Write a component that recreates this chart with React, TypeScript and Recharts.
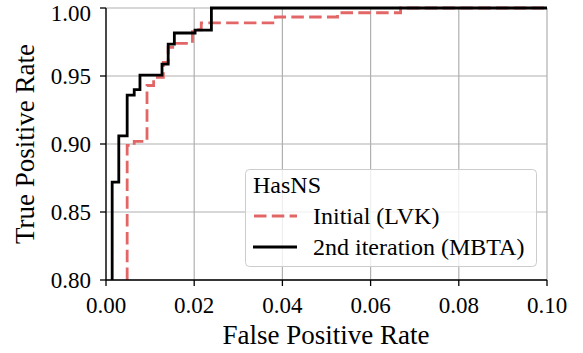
import React from 'react';
import { LineChart, Line, XAxis, YAxis, CartesianGrid, Legend } from 'recharts';

// ROC staircase vertices: (false positive rate, true positive rate) after each rise
const initialFpr = [0.0048, 0.0048, 0.0064, 0.0093, 0.0108, 0.013, 0.0141, 0.016, 0.0196, 0.0216, 0.0384, 0.0525, 0.0668, 0.1];
const initialTpr = [0.8, 0.899, 0.902, 0.943, 0.949, 0.96, 0.971, 0.974, 0.984, 0.989, 0.9934, 0.9965, 1.0, 1.0];

const iterFpr = [0.0014, 0.0014, 0.0029, 0.0048, 0.0064, 0.0077, 0.0127, 0.0141, 0.0155, 0.0202, 0.0239, 0.1];
const iterTpr = [0.8, 0.872, 0.906, 0.936, 0.94, 0.9507, 0.9588, 0.9735, 0.9816, 0.9838, 1.0, 1.0];

const xTicks = [0, 0.02, 0.04, 0.06, 0.08, 0.1];
const yTicks = [0.8, 0.85, 0.9, 0.95, 1.0];

const legendTitle = 'HasNS';
const initialName = 'Initial (LVK)';
const iterName = '2nd iteration (MBTA)';

const initialData = initialFpr.map((fpr, i) => ({ fpr, tpr: initialTpr[i] }));
const iterData = iterFpr.map((fpr, i) => ({ fpr, tpr: iterTpr[i] }));

const FONT = '"Liberation Serif", "Times New Roman", serif';
const RED = '#e26666';
const DASH = '12.5 5.3';

const W = 583;
const H = 353;

function LegendBox() {
  const txt = { fontFamily: FONT, fontSize: 24, fill: '#000' };
  return (
    <svg width={292} height={98} style={{ display: 'block' }}>
      <rect x={0.5} y={0.5} width={291} height={97} rx={4} ry={4} fill="#ffffff" fillOpacity={0.8} stroke="#cccccc" strokeWidth={1} />
      <text x={8} y={24} style={txt}>{legendTitle}</text>
      <line x1={9} x2={52} y1={47} y2={47} stroke={RED} strokeWidth={2.8} strokeDasharray={DASH} />
      <text x={68} y={55} style={txt}>{initialName}</text>
      <line x1={8} x2={52} y1={78} y2={78} stroke="#000" strokeWidth={2.8} />
      <text x={68} y={86} style={txt}>{iterName}</text>
    </svg>
  );
}

export default function App() {
  const tickStyle = { fill: '#000', fontSize: 23, fontFamily: FONT };
  const labelStyle = { fontFamily: FONT, fontSize: 27, fill: '#000' };
  return (
    <div style={{ position: 'absolute', left: 0, top: 0, width: W, height: H, background: '#fff', fontFamily: FONT }}>
      <LineChart width={W} height={H} margin={{ top: 8, right: 36, bottom: 0, left: 0 }}>
        <CartesianGrid stroke="#b0b0b0" strokeWidth={1.2} horizontalValues={yTicks} verticalValues={xTicks} />
        <XAxis
          type="number"
          dataKey="fpr"
          domain={[0, 0.1]}
          ticks={xTicks}
          tickFormatter={(v: number) => v.toFixed(2)}
          height={73}
          tickSize={6}
          tickMargin={11}
          tick={tickStyle}
          stroke="#000"
          axisLine={{ stroke: '#000', strokeWidth: 1.3 }}
          tickLine={{ stroke: '#000', strokeWidth: 1.3 }}
          label={{
            content: () => (
              <text x={326} y={344} textAnchor="middle" style={labelStyle}>
                False Positive Rate
              </text>
            ),
          }}
        />
        <XAxis xAxisId="top" orientation="top" type="number" domain={[0, 0.1]} height={0} tick={false} tickLine={false} axisLine={{ stroke: '#000', strokeWidth: 1.3 }} />
        <YAxis
          type="number"
          domain={[0.8, 1]}
          ticks={yTicks}
          tickFormatter={(v: number) => v.toFixed(2)}
          width={106}
          tickSize={6}
          tickMargin={9}
          tick={tickStyle}
          axisLine={{ stroke: '#000', strokeWidth: 1.3 }}
          tickLine={{ stroke: '#000', strokeWidth: 1.3 }}
          label={{
            content: () => (
              <text transform="translate(25,144) rotate(-90)" textAnchor="middle" dominantBaseline="central" style={labelStyle}>
                True Positive Rate
              </text>
            ),
          }}
        />
        <YAxis yAxisId="right" orientation="right" type="number" domain={[0.8, 1]} width={0} tick={false} tickLine={false} axisLine={{ stroke: '#000', strokeWidth: 1.3 }} />
        <Line
          data={initialData}
          dataKey="tpr"
          name={initialName}
          type="stepAfter"
          stroke={RED}
          strokeWidth={2.8}
          strokeDasharray={DASH}
          dot={false}
          activeDot={false}
          isAnimationActive={false}
        />
        <Line
          data={iterData}
          dataKey="tpr"
          name={iterName}
          type="stepAfter"
          stroke="#000"
          strokeWidth={2.8}
          dot={false}
          activeDot={false}
          isAnimationActive={false}
        />
        <Legend
          layout="horizontal"
          verticalAlign="middle"
          align="center"
          wrapperStyle={{ position: 'absolute', left: 245, top: 169, width: 292, height: 98, margin: 0, padding: 0 }}
          content={() => <LegendBox />}
        />
      </LineChart>
    </div>
  );
}
